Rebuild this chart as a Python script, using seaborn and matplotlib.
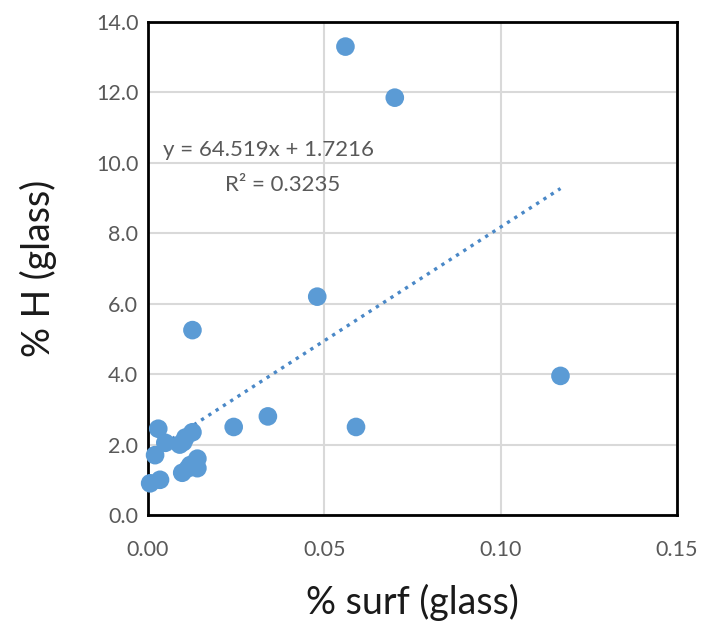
import numpy as np
import pandas as pd
import seaborn as sns
import matplotlib.pyplot as plt

# valores
surf = [0.056, 0.070, 0.048, 0.0126, 0.117, 0.034, 0.059, 0.0243,
        0.0029, 0.0049, 0.002, 0.0006, 0.0034, 0.010, 0.0126, 0.0106,
        0.009, 0.014, 0.012, 0.014, 0.0097, 0.0114]
h_glass = [13.3, 11.85, 6.2, 5.25, 3.95, 2.8, 2.5, 2.5,
           2.45, 2.05, 1.7, 0.9, 1.0, 2.07, 2.35, 2.2,
           2.0, 1.6, 1.42, 1.33, 1.2, 1.33]

# linea de tendencia (Excel)
pendiente = 64.519
intercepto = 1.7216
r2 = 0.3235

x_ticks = [0.00, 0.05, 0.10, 0.15]
y_ticks = [0.0, 2.0, 4.0, 6.0, 8.0, 10.0, 12.0, 14.0]

df = pd.DataFrame({'surf': surf, 'H': h_glass})

sns.set_style('white')
plt.rcParams['font.family'] = ['Lato', 'DejaVu Sans']

fig = plt.figure(figsize=(7.2, 6.27), dpi=100)
ax = fig.add_axes([0.2056, 0.1786, 0.7344, 0.7864])

azul = '#5b9bd5'

# trendline
xt = np.array([min(surf), max(surf)])
ax.plot(xt, pendiente * xt + intercepto, linestyle=(0, (1, 1.6)),
        color='#4a88c7', linewidth=2.4, zorder=2)

sns.scatterplot(x='surf', y='H', data=df, ax=ax, color=azul, s=180,
                edgecolor='none', zorder=3, clip_on=False)

ax.set_xlim(0, 0.15)
ax.set_ylim(0, 14)
ax.set_xticks(x_ticks)
ax.set_yticks(y_ticks)
ax.set_xticklabels([f'{v:.2f}' for v in x_ticks])
ax.set_yticklabels([f'{v:.1f}' for v in y_ticks])
ax.tick_params(axis='both', labelsize=15.5, colors='#595959', length=0)
ax.tick_params(axis='x', pad=18)
ax.tick_params(axis='y', pad=7)
ax.grid(True, color='#d9d9d9', linewidth=1.5)
ax.set_axisbelow(True)
for sp in ax.spines.values():
    sp.set_color('black')
    sp.set_linewidth(2)
    sp.set_visible(True)

ax.set_xlabel('% surf (glass)', fontsize=27, color='#1a1a1a', labelpad=17)
ax.set_ylabel('% H (glass)', fontsize=27, color='#1a1a1a', labelpad=28)

ax.text(0.0343, 10.37, f'y = {pendiente}x + {intercepto}', fontsize=16,
        color='#595959', ha='center', va='center')
ax.text(0.0383, 9.38, f'R² = {r2}', fontsize=16,
        color='#595959', ha='center', va='center')

fig.savefig('out.png', dpi=100)
